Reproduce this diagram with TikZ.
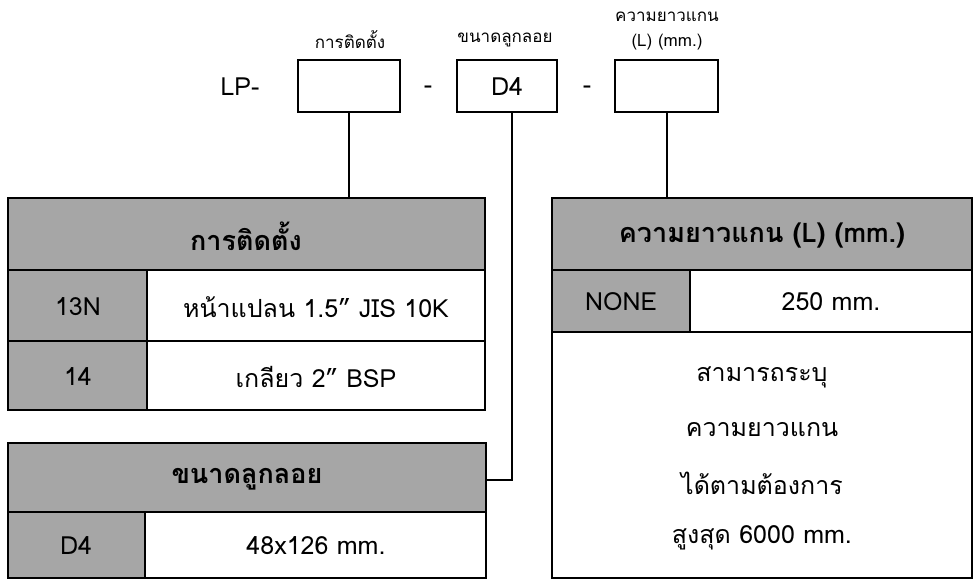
\documentclass[tikz,border=0pt]{standalone}
\usepackage{fontspec}
\setmainfont[Script=Thai]{Loma}
\definecolor{hdr}{HTML}{A6A6A6}
\begin{document}
\begin{tikzpicture}[x=1pt,y=-1pt,
  box/.style={draw=black,line width=1.6pt,inner sep=0},
  g/.style={box,fill=hdr},
  t/.style={font=\fontsize{25}{28}\selectfont,anchor=center},
  h/.style={font=\fontsize{27}{30}\selectfont\bfseries,anchor=center},
  s/.style={font=\fontsize{17}{20}\selectfont,anchor=center},
  ln/.style={line width=1.6pt}]
\useasboundingbox (0,0) rectangle (980,587);
% top code
\node[t] (lp) at (240,87) {LP-};
\draw[box] (298,60) rectangle (400,112); \coordinate (b1) at (349,112);
\node[t] (d1) at (428,90) {-};
\draw[box] (457,60) rectangle (557,112); \node[t] (b2t) at (507,87) {D4}; \coordinate (b2) at (512,112);
\node[t] (d2) at (587,90) {-};
\draw[box] (615,60) rectangle (718,112); \coordinate (b3) at (667,112);
\node[s] (l1) at (350,40) {การติดตั้ง};
\node[s] (l2) at (505,40) {ขนาดลูกลอย};
\node[s] (l3a) at (667,17) {ความยาวแกน};
\node[s] (l3b) at (667,42) {(L) (mm.)};
% table 1
\draw[g] (8,198) rectangle (485,270);
\node[h] (h1) at (246,236) {การติดตั้ง};
\draw[g] (8,270) rectangle (147,341); \draw[box] (147,270) rectangle (485,341);
\draw[g] (8,341) rectangle (147,410); \draw[box] (147,341) rectangle (485,410);
\node[t] (r11) at (78,307) {13N}; \node[t] (r12) at (316,307) {หน้าแปลน 1.5” JIS 10K};
\node[t] (r21) at (78,377) {14}; \node[t] (r22) at (316,377) {เกลียว 2” BSP};
% table 2
\draw[g] (8,443) rectangle (486,512);
\node[h] (h2) at (247,479) {ขนาดลูกลอย};
\draw[g] (8,512) rectangle (145,578); \draw[box] (145,512) rectangle (486,578);
\node[t] (r31) at (76,546) {D4}; \node[t] (r32) at (316,546) {48x126 mm.};
% table 3
\draw[g] (552,198) rectangle (972,270);
\node[h] (h3) at (762,236) {ความยาวแกน (L) (mm.)};
\draw[g] (552,270) rectangle (690,332); \draw[box] (690,270) rectangle (972,332);
\node[t] (r41) at (621,302) {NONE}; \node[t] (r42) at (831,302) {250 mm.};
\draw[box] (552,332) rectangle (972,578);
\node[t] (p1) at (762,377) {สามารถระบุ};
\node[t] (p2) at (762,430) {ความยาวแกน};
\node[t] (p3) at (762,483) {ได้ตามต้องการ};
\node[t] (p4) at (762,538) {สูงสุด 6000 mm.};
% connectors
\draw[ln] (b1) -- (349,198);
\draw[ln] (b2) -- (512,480) -- (486,480);
\draw[ln] (b3) -- (667,198);
\end{tikzpicture}
\end{document}
